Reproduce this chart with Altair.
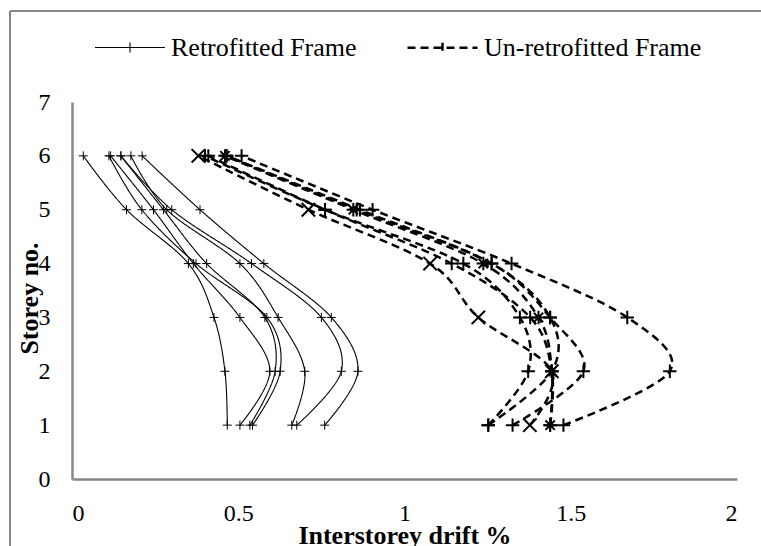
import altair as alt
import pandas as pd

# Storey numbers (y) for every profile
storeys = [1, 2, 3, 4, 5, 6]

# Interstorey drift (%) per storey, retrofitted frame
ret_a = [0.467, 0.460, 0.427, 0.350, 0.164, 0.034]
ret_b = [0.505, 0.595, 0.505, 0.365, 0.245, 0.116]
ret_c = [0.535, 0.611, 0.580, 0.405, 0.275, 0.147]
ret_d = [0.543, 0.626, 0.586, 0.373, 0.210, 0.111]
ret_e = [0.661, 0.700, 0.620, 0.505, 0.285, 0.177]
ret_f = [0.676, 0.810, 0.750, 0.540, 0.300, 0.147]
ret_g = [0.760, 0.860, 0.780, 0.577, 0.385, 0.211]

# Interstorey drift (%) per storey, un-retrofitted frame
unr_a = [1.252, 1.372, 1.347, 1.177, 0.761, 0.400]
unr_b = [1.377, 1.443, 1.222, 1.077, 0.711, 0.380]
unr_c = [1.438, 1.443, 1.378, 1.142, 0.761, 0.410]
unr_d = [1.438, 1.443, 1.403, 1.237, 0.846, 0.460]
unr_e = [1.252, 1.443, 1.438, 1.262, 0.856, 0.465]
unr_f = [1.325, 1.538, 1.438, 1.262, 0.866, 0.465]
unr_g = [1.478, 1.798, 1.670, 1.322, 0.904, 0.510]

RET = "Retrofitted Frame"
UNR = "Un-retrofitted Frame"

PLUS = "M-1,0H1M0,-1V1"
CROSS = "M-1,-1L1,1M-1,1L1,-1"
STAR = "M-1,0H1M0,-1V1M-0.7,-0.7L0.7,0.7M-0.7,0.7L0.7,-0.7"

ret_series = {"R1": ret_a, "R2": ret_b, "R3": ret_c, "R4": ret_d,
              "R5": ret_e, "R6": ret_f, "R7": ret_g}
unr_series = {"U1": unr_a, "U2": unr_b, "U3": unr_c, "U4": unr_d,
              "U5": unr_e, "U6": unr_f, "U7": unr_g}
unr_marker = {"U1": "plus", "U2": "cross", "U3": "plus", "U4": "star",
              "U5": "plus", "U6": "plus", "U7": "plus"}

rows = []
for name, vals in ret_series.items():
    for s, v in zip(storeys, vals):
        rows.append({"frame": RET, "series": name, "storey": s, "drift": v,
                     "marker": "small"})
for name, vals in unr_series.items():
    for s, v in zip(storeys, vals):
        rows.append({"frame": UNR, "series": name, "storey": s, "drift": v,
                     "marker": unr_marker[name]})
df = pd.DataFrame(rows)

FONT = "Liberation Serif"
AXIS_GREY = "#878787"

x_enc = alt.X(
    "drift:Q",
    scale=alt.Scale(domain=[0, 2], nice=False),
    axis=alt.Axis(
        values=[0, 0.5, 1, 1.5, 2], format="~g",
        title="Interstorey drift %",
        titleY=64, titleBaseline="alphabetic",
        labelPadding=22,
    ),
)
y_enc = alt.Y(
    "storey:Q",
    scale=alt.Scale(domain=[0, 7], nice=False),
    axis=alt.Axis(
        values=[0, 1, 2, 3, 4, 5, 6, 7], format="d",
        title="Storey no.",
        titleX=-35, titleY=196, titleAngle=270,
        titleBaseline="alphabetic", titleAlign="center",
        labelPadding=22,
    ),
)

legend_spec = alt.Legend(
    title=None, orient="none", legendX=22, legendY=-91,
    direction="horizontal",
    symbolType="M-1,0H1M0,-0.14V0.14",
    symbolSize=4900, symbolStrokeColor="black",
    labelFont=FONT, labelFontSize=26, labelColor="black", labelLimit=0,
    labelOffset=5, columnPadding=45,
)

lines = alt.Chart(df).mark_line(
    interpolate="cardinal", tension=0, color="black"
).encode(
    x=x_enc,
    y=y_enc,
    detail="series:N",
    order="storey:Q",
    strokeDash=alt.StrokeDash(
        "frame:N",
        scale=alt.Scale(domain=[RET, UNR], range=[[1, 0], [8, 5]]),
        legend=legend_spec,
    ),
    strokeWidth=alt.StrokeWidth(
        "frame:N",
        scale=alt.Scale(domain=[RET, UNR], range=[1.1, 2.5]),
        legend=legend_spec,
    ),
)

ret_points = alt.Chart(df).transform_filter(
    alt.datum.frame == RET
).mark_point(
    shape=PLUS, size=81, strokeWidth=1, filled=False, color="black", opacity=1
).encode(x="drift:Q", y="storey:Q")

unr_points = alt.Chart(df).transform_filter(
    alt.datum.frame == UNR
).mark_point(
    size=180, strokeWidth=2, filled=False, color="black", opacity=1
).encode(
    x="drift:Q",
    y="storey:Q",
    shape=alt.Shape(
        "marker:N",
        scale=alt.Scale(domain=["plus", "cross", "star"],
                        range=[PLUS, CROSS, STAR]),
        legend=None,
    ),
)

# Outer frame edges around the figure
frame_left = alt.Chart(df).mark_rule(color=AXIS_GREY, strokeWidth=1.2).encode(
    x=alt.value(-62), y=alt.value(-91), y2=alt.value(460)
)
frame_top = alt.Chart(df).mark_rule(color=AXIS_GREY, strokeWidth=1.2).encode(
    x=alt.value(-62), x2=alt.value(700), y=alt.value(-91)
)

chart = alt.layer(frame_left, frame_top, lines, ret_points, unr_points).properties(
    width=665,
    height=377,
    autosize=alt.AutoSizeParams(type="none"),
    padding={"left": 72, "top": 102, "right": 24, "bottom": 67},
    background="white",
).configure(
    font=FONT
).configure_view(
    stroke=None
).configure_axis(
    grid=False,
    ticks=False,
    domainColor=AXIS_GREY,
    domainWidth=2.5,
    labelFont=FONT,
    labelFontSize=24,
    labelColor="black",
    titleFont=FONT,
    titleFontSize=26,
    titleFontWeight="bold",
    titleColor="black",
).configure_legend(
    labelFont=FONT,
    labelFontSize=26,
    labelLimit=0,
)

chart.save("out.html", embed_options={"renderer": "svg", "actions": False})
